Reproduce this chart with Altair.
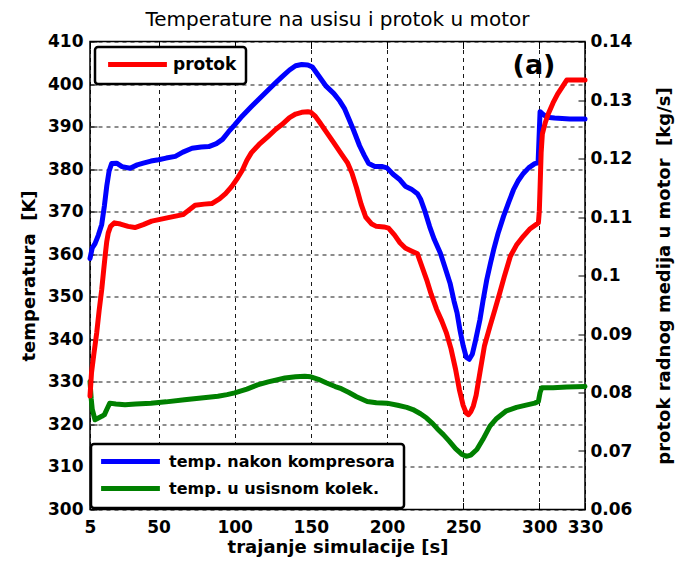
import altair as alt
import pandas as pd

# ---------------- data ----------------
x_ticks = [5, 50, 100, 150, 200, 250, 300, 330]
left_ticks = [300, 310, 320, 330, 340, 350, 360, 370, 380, 390, 400, 410]
right_ticks = [0.06, 0.07, 0.08, 0.09, 0.10, 0.11, 0.12, 0.13, 0.14]

blue_t = [5, 6.5, 8.3, 10.5, 12.7, 14.5, 16, 17.5, 19.2, 22.5, 26, 31.3, 36, 40, 45, 50,
          55, 61, 66, 72, 78, 83, 88, 92, 96, 100, 105, 111, 116, 122, 126, 131, 136,
          140, 144, 148, 151, 155, 160, 165, 169, 172, 175, 178, 182, 185, 188, 192,
          197, 200, 204, 208.5, 212, 216, 220, 222, 225, 228, 231, 235, 238, 241.4,
          244, 246, 248, 250, 252, 254, 256, 258, 261, 263, 265.5, 268, 270, 273,
          276.5, 280, 283, 286, 289.5, 293, 297, 299.2, 299.8, 300.5, 302, 305, 310,
          315, 320, 330]
blue_T = [359.0, 361.5, 362.5, 364.5, 367.0, 371.5, 376.0, 379.5, 381.3, 381.4, 380.6,
          380.2, 381.0, 381.4, 381.9, 382.2, 382.6, 383.0, 384.0, 384.9, 385.2, 385.3,
          386.0, 387.0, 388.8, 390.4, 392.5, 394.7, 396.5, 398.6, 400.0, 401.7, 403.3,
          404.3, 404.6, 404.5, 404.0, 402.0, 399.5, 397.8, 396.0, 394.3, 391.8, 389.2,
          385.5, 383.3, 381.3, 380.6, 380.6, 380.3, 378.8, 377.5, 376.0, 375.3, 374.2,
          373.0, 370.0, 366.5, 363.5, 360.3, 357.0, 353.2, 349.0, 346.2, 342.0, 338.5,
          335.8, 335.3, 336.5, 339.5, 344.6, 349.0, 354.0, 358.0, 361.0, 365.0, 368.9,
          372.3, 375.1, 377.2, 379.0, 380.3, 381.3, 381.5, 387.0, 393.5, 393.0, 392.2,
          392.0, 391.9, 391.8, 391.8]

green_t = [5, 5.8, 6.5, 8.3, 10.5, 12.7, 14.5, 16, 18, 22, 28, 35, 45, 55, 67, 78, 89,
           95, 100, 108, 115, 122, 133, 140, 146, 150, 155, 160, 166, 170, 175, 180, 187,
           193, 200, 207, 213, 217, 222, 226, 230, 233, 237, 241, 245, 249, 252, 255, 259,
           263, 267.6, 272, 278, 285, 292, 297, 299.4, 300.5, 301.6, 309, 318, 330]
green_T = [330.1, 326.0, 323.5, 321.1, 321.5, 321.9, 322.3, 323.5, 325.0, 324.8, 324.6,
           324.8, 325.0, 325.3, 325.8, 326.2, 326.6, 327.0, 327.4, 328.3, 329.3, 330.0,
           330.9, 331.2, 331.3, 331.2, 330.6, 329.8, 328.9, 328.4, 327.5, 326.5, 325.4,
           325.1, 325.0, 324.5, 324.0, 323.5, 322.5, 321.5, 320.2, 319.0, 317.6, 316.0,
           314.3, 313.0, 312.5, 312.8, 314.1, 316.5, 319.6, 321.4, 323.1, 324.0, 324.6,
           325.0, 325.4, 327.5, 328.6, 328.6, 328.8, 328.9]

red_t = [5, 6, 7.5, 9.4, 11, 12.7, 14, 15, 16, 17, 18.5, 21, 25, 30, 34.5, 40, 45.5, 51,
         56.4, 62, 66, 70, 74, 80, 85, 90, 94, 98, 102, 105, 108, 111, 116, 122, 127, 131,
         136, 140, 144, 148, 150, 153, 156, 160, 165, 170, 174, 177, 180, 183, 186, 190,
         193, 198, 201, 205, 208.5, 212, 216, 220, 223, 226, 229, 232.6, 236, 239, 242,
         245, 247.5, 250, 252, 253.5, 255, 256.7, 258.5, 261, 264, 267.6, 271, 274, 277,
         281, 285, 289.5, 294, 299.4, 300, 300.5, 301.2, 302, 304, 306, 309, 312, 315,
         318, 322, 330]
red_flow = [0.0794, 0.0834, 0.0865, 0.0902, 0.0940, 0.0976, 0.1010, 0.1035, 0.1058,
            0.1073, 0.1084, 0.1090, 0.1088, 0.1084, 0.1082, 0.1087, 0.1093, 0.1096,
            0.1099, 0.1102, 0.1104, 0.1112, 0.1120, 0.1122, 0.1123, 0.1131, 0.1140,
            0.1152, 0.1167, 0.1180, 0.1197, 0.1210, 0.1224, 0.1238, 0.1250, 0.1258,
            0.1270, 0.1276, 0.1279, 0.1280, 0.1279, 0.1272, 0.1261, 0.1246, 0.1227,
            0.1208, 0.1193, 0.1175, 0.1150, 0.1122, 0.1100, 0.1088, 0.1084, 0.1083,
            0.1081, 0.1069, 0.1056, 0.1047, 0.1042, 0.1037, 0.1015, 0.0993, 0.0968,
            0.0942, 0.0922, 0.0902, 0.0875, 0.0840, 0.0805, 0.0778, 0.0765, 0.0762,
            0.0767, 0.0777, 0.0795, 0.0834, 0.0880, 0.0913, 0.0943, 0.0970, 0.0998,
            0.1033, 0.1052, 0.1067, 0.1080, 0.1090, 0.1110, 0.1150, 0.1210, 0.1242,
            0.1262, 0.1277, 0.1295, 0.1310, 0.1322, 0.1334, 0.1334, 0.1334]

temp_names = ["temp. nakon kompresora", "temp. u usisnom kolek."]
flow_names = ["protok"]
temp_colors = ["#0000ff", "#008000"]
flow_colors = ["#ff0000"]

# ---------------- tables ----------------
df_temp = pd.DataFrame({
    "t": blue_t + green_t,
    "T": blue_T + green_T,
    "series": [temp_names[0]] * len(blue_t) + [temp_names[1]] * len(green_t),
    "i": list(range(len(blue_t))) + list(range(len(green_t))),
})
df_flow = pd.DataFrame({
    "t": red_t,
    "flow": red_flow,
    "series2": flow_names * len(red_t),
    "i": list(range(len(red_t))),
})
df_lbl = pd.DataFrame({"lbl": ["(a)"]})

FONT = "DejaVu Sans"
SYM = "M-4.9,0H4.9"

xscale = alt.Scale(domain=[5, 330], nice=False, zero=False)

temp_layer = alt.Chart(df_temp).mark_line(strokeWidth=5, strokeJoin="round", strokeCap="round").encode(
    x=alt.X("t:Q", scale=xscale,
            axis=alt.Axis(orient="bottom", values=x_ticks, offset=-7, tickSize=7,
                          labelPadding=10, grid=True, labelOverlap=False, labelFlush=False,
                          title="trajanje simulacije [s]", titlePadding=3)),
    y=alt.Y("T:Q", scale=alt.Scale(domain=[300, 410], nice=False, zero=False),
            axis=alt.Axis(orient="left", values=left_ticks, offset=-7, tickSize=7,
                          labelPadding=7, grid=True, title="temperatura\u00a0 [K]",
                          titlePadding=9)),
    color=alt.Color("series:N", scale=alt.Scale(domain=temp_names, range=temp_colors),
                    legend=alt.Legend(orient="none", legendX=1, legendY=402.5, title=None,
                                      direction="vertical", symbolType=SYM, symbolSize=144,
                                      symbolStrokeWidth=5, symbolOffset=22, labelOffset=30,
                                      labelFontSize=16, rowPadding=6, padding=9)),
    order="i:Q",
)

flow_layer = alt.Chart(df_flow).mark_line(strokeWidth=5, strokeJoin="round", strokeCap="round").encode(
    x=alt.X("t:Q", scale=xscale,
            axis=alt.Axis(orient="top", values=x_ticks, offset=-7, tickSize=7,
                          labels=False, grid=False, title=None)),
    y=alt.Y("flow:Q", scale=alt.Scale(domain=[0.06, 0.14], nice=False, zero=False),
            axis=alt.Axis(orient="right", values=right_ticks, offset=-7, tickSize=7,
                          labelPadding=5, grid=False, format=".2~f",
                          title="protok radnog medija u motor\u00a0 [kg/s]",
                          titleAngle=270, titlePadding=42)),
    color=alt.Color("series2:N", scale=alt.Scale(domain=flow_names, range=flow_colors),
                    legend=alt.Legend(orient="none", legendX=5, legendY=5.5, title=None,
                                      direction="vertical", symbolType=SYM, symbolSize=144,
                                      symbolStrokeWidth=5, symbolOffset=25, labelOffset=27,
                                      padding=9)),
    order="i:Q",
)

label_layer = alt.Chart(df_lbl).mark_text(font=FONT, fontSize=27, fontWeight="bold",
                                          color="black", align="center", baseline="middle").encode(
    x=alt.value(444), y=alt.value(24.5), text="lbl:N")

chart = alt.layer(temp_layer, flow_layer, label_layer).resolve_scale(
    y="independent", color="independent"
).resolve_axis(x="independent").properties(
    width=495, height=468,
    autosize=alt.AutoSizeParams(type="none"),
    padding={"left": 82, "top": 33.5, "right": 90, "bottom": 53},
    title=alt.TitleParams("Temperature na usisu i protok u motor", font=FONT, fontSize=20,
                          fontWeight="normal", color="black", offset=3),
).configure_view(
    stroke="black", strokeWidth=1.5
).configure_axis(
    domain=False, labelFont=FONT, labelFontSize=17, labelFontWeight="bold", labelColor="black",
    titleFont=FONT, titleFontSize=18, titleFontWeight="bold", titleColor="black",
    tickColor="black", tickWidth=1, gridColor="black", gridDash=[4, 4], gridWidth=1,
    gridOpacity=0.9,
).configure_legend(
    labelFont=FONT, labelFontSize=17, labelFontWeight="bold", labelColor="black",
    labelLimit=400, strokeColor="black", fillColor="white", cornerRadius=3, strokeWidth=2.5,
)

chart.save("out.html", embed_options={"renderer": "svg", "actions": False})
